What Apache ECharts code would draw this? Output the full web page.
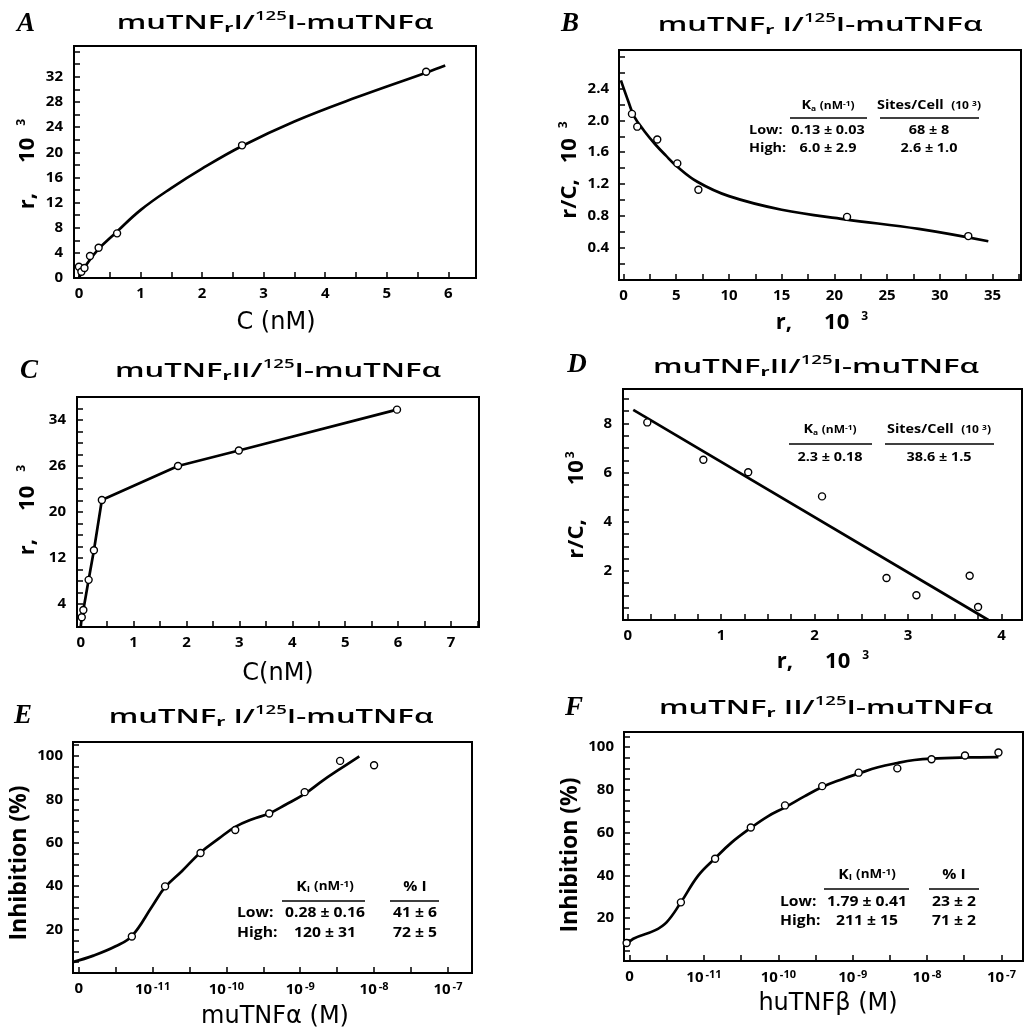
<!DOCTYPE html>
<html><head><meta charset="utf-8">
<script src="https://cdn.jsdelivr.net/npm/echarts@6.0.0/dist/echarts.min.js"></script>
<style>
html,body{margin:0;padding:0;background:#fff;}
#wrap{position:relative;width:1024px;height:1030px;background:#fff;}
#axesChart,#dataChart{position:absolute;left:0;top:0;width:1024px;height:1030px;}
</style>
</head><body><div id="wrap"><div id="axesChart"></div><div id="dataChart"></div></div>
<script>
// ================= DATA =================
// Panel A  r (x10^3) vs C (nM)
const aPointC = [0.0, 0.04, 0.09, 0.18, 0.32, 0.62, 2.65, 5.64];
const aPointR = [1.8, 1.0, 1.6, 3.5, 4.8, 7.1, 21.1, 32.8];
const aFitC = [0, 0.1, 0.3, 0.6, 1.0, 1.5, 2.0, 2.65, 3.5, 4.5, 5.65, 5.95];
const aFitR = [0, 1.8, 4.4, 7.2, 10.8, 14.3, 17.4, 21.0, 24.9, 28.7, 32.7, 33.8];
const aXTicks = [0, 1, 2, 3, 4, 5, 6];
const aXLabels = ['0', '1', '2', '3', '4', '5', '6'];
const aYTicks = [0, 4, 8, 12, 16, 20, 24, 28, 32];
const aYLabels = ['0', '4', '8', '12', '16', '20', '24', '28', '32'];

// Panel B  Scatchard r/C vs r
const bPointR = [0.8, 1.3, 3.2, 5.1, 7.1, 21.2, 32.7];
const bPointRC = [2.08, 1.92, 1.76, 1.46, 1.13, 0.79, 0.55];
const bFitR = [-0.25, 0.5, 1, 2, 3, 4, 5, 7, 10, 15, 21, 28, 34.6];
const bFitRC = [2.5, 2.22, 2.05, 1.86, 1.7, 1.56, 1.43, 1.23, 1.05, 0.88, 0.76, 0.64, 0.485];
const bXTicks = [0, 5, 10, 15, 20, 25, 30, 35];
const bXLabels = ['0', '5', '10', '15', '20', '25', '30', '35'];
const bYTicks = [0.4, 0.8, 1.2, 1.6, 2.0, 2.4];
const bYLabels = ['0.4', '0.8', '1.2', '1.6', '2.0', '2.4'];
const bTableHead = ['K{ks|a} {kh|(nM}{ku|-1}{kh|)}', 'Sites/Cell  {kh|(10 }{ku|3}{kh|)}'];
const bTableRows = [['Low:', '0.13 ± 0.03', '68 ± 8'], ['High:', '6.0 ± 2.9', '2.6 ± 1.0']];

// Panel C  r vs C
const cPointC = [0.02, 0.05, 0.15, 0.25, 0.40, 1.84, 2.99, 5.98];
const cPointR = [1.7, 2.95, 8.2, 13.35, 22.1, 28.0, 30.7, 37.8];
const cLineC = [0, 0.02, 0.05, 0.15, 0.25, 0.40, 1.84, 2.99, 5.98];
const cLineR = [0, 1.7, 2.95, 8.2, 13.35, 22.1, 28.0, 30.7, 37.8];
const cXTicks = [0, 1, 2, 3, 4, 5, 6, 7];
const cXLabels = ['0', '1', '2', '3', '4', '5', '6', '7'];
const cYTicks = [4, 12, 20, 28, 36];
const cYLabels = ['4', '12', '20', '26', '34'];

// Panel D  Scatchard
const dPointR = [0.21, 0.81, 1.29, 2.08, 2.77, 3.09, 3.66, 3.75];
const dPointRC = [8.04, 6.52, 6.01, 5.03, 1.71, 1.01, 1.80, 0.53];
const dFitR = [0.06, 3.86];
const dFitRC = [8.55, 0];
const dXTicks = [0, 1, 2, 3, 4];
const dXLabels = ['0', '1', '2', '3', '4'];
const dYTicks = [2, 4, 6, 8];
const dYLabels = ['2', '4', '6', '8'];
const dTableHead = ['K{ks|a} {kh|(nM}{ku|-1}{kh|)}', 'Sites/Cell  {kh|(10 }{ku|3}{kh|)}'];
const dTableRows = [['', '2.3 ± 0.18', '38.6 ± 1.5']];

// Panel E  inhibition vs log10[muTNFα]  (position -12 is the "0" tick)
const ePointX = [-11.28, -10.83, -10.35, -9.88, -9.42, -8.94, -8.46, -8.0];
const ePointY = [16.8, 39.9, 55.3, 65.9, 73.5, 83.3, 97.7, 95.7];
const eFitX = [-12.08, -11.8, -11.5, -11.28, -11.0, -10.83, -10.6, -10.35, -10.1, -9.88, -9.65, -9.42, -9.2, -8.94, -8.7, -8.46, -8.2];
const eFitY = [5, 8, 12.3, 17, 31, 39.5, 47, 55.5, 62, 67.3, 70.8, 73.5, 77.5, 82.5, 88.5, 94, 99.8];
const eTableHead = ['K{ks|I} {kh|(nM}{ku|-1}{kh|)}', '% I'];
const eTableRows = [['Low:', '0.28 ± 0.16', '41 ± 6'], ['High:', '120 ± 31', '72 ± 5']];

// Panel F  inhibition vs log10[huTNFβ]
const fPointX = [-12.04, -11.31, -10.85, -10.37, -9.91, -9.41, -8.92, -8.40, -7.94, -7.49, -7.04];
const fPointY = [8.4, 27.4, 47.8, 62.4, 72.7, 81.7, 88.0, 90.0, 94.3, 96.0, 97.4];
const fFitX = [-12.04, -11.95, -11.66, -11.5, -11.31, -11.08, -10.85, -10.63, -10.37, -10.14, -9.91, -9.65, -9.41, -9.17, -8.92, -8.66, -8.40, -8.17, -7.94, -7.49, -7.04];
const fFitY = [7.6, 10.4, 14.3, 18.2, 27.4, 39.8, 48, 55.3, 62.2, 67.6, 71.8, 76.9, 81.3, 84.6, 87.6, 90.5, 92.5, 93.9, 94.6, 95.1, 95.3];
const fTableHead = ['K{ks|I} {kh|(nM}{ku|-1}{kh|)}', '% I'];
const fTableRows = [['Low:', '1.79 ± 0.41', '23 ± 2'], ['High:', '211 ± 15', '71 ± 2']];

// shared log-axis tick labels for E and F
const logTicks = [-12, -11, -10, -9, -8, -7];
const logBase = ['0', '10', '10', '10', '10', '10'];
const logExp = ['', '-11', '-10', '-9', '-8', '-7'];
const inhTicks = [20, 40, 60, 80, 100];
const inhLabels = ['20', '40', '60', '80', '100'];

// ================= BUILD =================
const FONT = "'Open Sans', 'DejaVu Sans', sans-serif";
const WIDE = "'DejaVu Sans', sans-serif";
const zip = (xs, ys) => xs.map((x, i) => [x, ys[i]]);
function steps(min, max, step) {
  const out = [];
  for (let k = Math.ceil(min / step - 1e-9); k * step <= max + 1e-9; k++) out.push(+(k * step).toFixed(6));
  return out;
}
function pick(vals, labels) {
  return function (v) {
    for (let i = 0; i < vals.length; i++) if (Math.abs(vals[i] - v) < 1e-6) return labels[i];
    return '';
  };
}
const logLabels = logBase.map((b, i) => logExp[i] ? '{b|' + b + '}{e|' + logExp[i] + '}' : b);
const tickRich = {
  b: { fontSize: 15, fontWeight: 'bold', fontFamily: FONT, color: '#000', lineHeight: 18 },
  e: { fontSize: 11, fontWeight: 'bold', fontFamily: FONT, color: '#000', verticalAlign: 'top', lineHeight: 10, padding: [0, 0, 0, 2] }
};

// x: [grid, min, max, tick step, label values, label texts, label margin, rich labels]
const xSpecs = [
  [0, -0.08, 6.45, 0.5, aXTicks, aXLabels, 8, false],
  [1, -0.43, 37.7, 2.5, bXTicks, bXLabels, 8, false],
  [2, -0.07, 7.53, 0.5, cXTicks, cXLabels, 8, false],
  [3, -0.05, 4.22, 0.25, dXTicks, dXLabels, 8, false],
  [4, -12.077, -6.674, 0.5, logTicks, logLabels, 8, true],
  [5, -12.075, -6.71, 0.5, logTicks, logLabels, 8, true]
];
// y: [grid, min, max, tick step, label values, label texts, label margin, onZeroOff]
const ySpecs = [
  [0, 0, 36.9, 2, aYTicks, aYLabels, 11, true],
  [1, 0, 2.88, 0.2, bYTicks, bYLabels, 10, true],
  [2, 0, 40, 2, cYTicks, cYLabels, 11, true],
  [3, 0, 9.4, 0.5, dYTicks, dYLabels, 11, true],
  [4, 0, 106.4, 5, inhTicks, inhLabels, 10, false],
  [5, 0, 107, 5, inhTicks, inhLabels, 10, false]
];

function xVisible(s) {
  const [g, min, max, step, vals, labels, margin, useRich] = s;
  const label = { customValues: vals, formatter: pick(vals, labels), margin: margin, color: '#000',
    fontFamily: FONT, fontSize: 15, fontWeight: 'bold' };
  if (useRich) label.rich = tickRich;
  return {
    type: 'value', gridIndex: g, min: min, max: max,
    axisLine: { show: true, onZero: false, lineStyle: { color: '#000', width: 2 } },
    axisTick: { show: true, inside: true, length: 6, customValues: steps(min, max, step),
      lineStyle: { color: '#000', width: 1.5 } },
    splitLine: { show: false },
    axisLabel: label
  };
}
function yVisible(s) {
  const [g, min, max, step, vals, labels, margin, onZeroOff] = s;
  const line = { show: true, lineStyle: { color: '#000', width: 2 } };
  if (onZeroOff) line.onZero = false;
  return {
    type: 'value', gridIndex: g, min: min, max: max, interval: step,
    axisLine: line,
    axisTick: { show: true, inside: true, length: 6, lineStyle: { color: '#000', width: 1.5 } },
    splitLine: { show: false },
    axisLabel: { formatter: pick(vals, labels), margin: margin, color: '#000',
      fontFamily: FONT, fontSize: 15, fontWeight: 'bold' }
  };
}
function axisHidden(s) {
  return { type: 'value', gridIndex: s[0], min: s[1], max: s[2], show: false };
}

const gridRects = [
  { left: 74, top: 46, width: 402, height: 232 },
  { left: 619, top: 50, width: 402, height: 230 },
  { left: 77, top: 397, width: 402, height: 230 },
  { left: 623, top: 389, width: 399, height: 231 },
  { left: 73, top: 742, width: 399, height: 231 },
  { left: 624, top: 732, width: 399, height: 229 }
];

function fit(i, xs, ys, smooth) {
  return { type: 'line', xAxisIndex: i, yAxisIndex: i, data: zip(xs, ys), smooth: smooth, showSymbol: false,
    lineStyle: { color: '#000', width: 2.7 }, z: 2, silent: true };
}
function pts(i, xs, ys) {
  return { type: 'scatter', xAxisIndex: i, yAxisIndex: i, data: zip(xs, ys), symbol: 'circle', symbolSize: 7,
    itemStyle: { color: '#fff', borderColor: '#000', borderWidth: 1.4, opacity: 1 }, z: 3, silent: true };
}
const series = [
  fit(0, aFitC, aFitR, 0.4), pts(0, aPointC, aPointR),
  fit(1, bFitR, bFitRC, 0.4), pts(1, bPointR, bPointRC),
  fit(2, cLineC, cLineR, false), pts(2, cPointC, cPointR),
  fit(3, dFitR, dFitRC, false), pts(3, dPointR, dPointRC),
  fit(4, eFitX, eFitY, 0.4), pts(4, ePointX, ePointY),
  fit(5, fFitX, fFitY, 0.4), pts(5, fPointX, fPointY)
];

function txt(x, y, text, size, extra, sx, rot) {
  return { type: 'text', x: x, y: y, scaleX: sx || 1, rotation: rot || 0, silent: true,
    style: Object.assign({ text: text, fill: '#000', fontFamily: FONT, fontSize: size, fontWeight: 'bold',
      align: 'center', verticalAlign: 'middle', textAlign: 'center', textVerticalAlign: 'middle' }, extra || {}) };
}
function hline(x1, x2, y) {
  return { type: 'line', silent: true, shape: { x1: x1, y1: y, x2: x2, y2: y }, style: { stroke: '#000', lineWidth: 1.4 } };
}
const titleRich = {
  t: { fontSize: 20, fontFamily: FONT, fontWeight: 600, fill: '#000', lineHeight: 24 },
  r: { fontSize: 13, fontFamily: FONT, fontWeight: 'bold', fill: '#000', verticalAlign: 'bottom', lineHeight: 9 },
  p: { fontSize: 12, fontFamily: FONT, fontWeight: 600, fill: '#000', verticalAlign: 'top', lineHeight: 13 }
};
function title(x, y, rec) {
  return txt(x, y, '{t|muTNF}{r|r}{t|' + rec + '/}{p|125}{t|I-muTNFα}', 20, { rich: titleRich, fontWeight: 600 }, 1.55);
}
function letter(x, y, l) {
  return txt(x, y, l, 27, { fontFamily: "'Liberation Serif', serif", fontStyle: 'italic', fontWeight: 'bold' });
}
// axis titles
function nameRich(gap1, gap2) {
  const n = { fontSize: 22, fontWeight: 'bold', fontFamily: FONT, fill: '#000', lineHeight: 24 };
  return {
    n: n,
    g: Object.assign({}, n, { padding: [0, 0, 0, gap1] }),
    s: { fontSize: 12, fontWeight: 'bold', fontFamily: FONT, fill: '#000', verticalAlign: 'top', lineHeight: 10, padding: [0, 0, 0, gap2] }
  };
}
function rName(x, y, first, g1, g2, rot) {
  return txt(x, y, '{n|' + first + '}{g|10}{s|3}', 22, { rich: nameRich(g1, g2) }, 1, rot);
}
function plainName(x, y, text, rot) {
  return txt(x, y, text, 24, { fontFamily: WIDE, fontWeight: 'normal' }, 1, rot);
}
function inhName(x, y) {
  return txt(x, y, 'Inhibition (%)', 23, { fontWeight: 'bold' }, 1, Math.PI / 2);
}
const R90 = Math.PI / 2;
const axisNames = [
  plainName(276, 323, 'C (nM)'), rName(28, 164, 'r,', 30, 12, R90),
  rName(822, 323, 'r,', 32, 12), rName(570, 170, 'r/C,', 16, 10, R90),
  plainName(278, 674, 'C(nM)'), rName(28, 510, 'r,', 28, 14, R90),
  rName(823, 662, 'r,', 32, 12), rName(577, 505, 'r/C,', 34, 2, R90),
  plainName(275, 1017, 'muTNFα (M)'), inhName(19, 863),
  plainName(828, 1004, 'huTNFβ (M)'), inhName(570, 855)
];
function tRich(size) {
  return {
    kh: { fontSize: size - 2, fontFamily: FONT, fontWeight: 'bold', fill: '#000' },
    ks: { fontSize: size - 5, fontFamily: FONT, fontWeight: 'bold', fill: '#000', verticalAlign: 'bottom', lineHeight: 6 },
    ku: { fontSize: size - 5, fontFamily: FONT, fontWeight: 'bold', fill: '#000', verticalAlign: 'top', lineHeight: 8 }
  };
}
function table(head, rows, cfg) {
  const out = [];
  const s = cfg.size, sx = cfg.sx;
  out.push(txt(cfg.c1, cfg.hy, head[0], s, { rich: tRich(s) }, sx));
  out.push(txt(cfg.c2, cfg.hy, head[1], s, { rich: tRich(s) }, sx));
  out.push(hline(cfg.u1[0], cfg.u1[1], cfg.uy));
  out.push(hline(cfg.u2[0], cfg.u2[1], cfg.uy));
  rows.forEach((r, i) => {
    const y = cfg.ry[i];
    if (r[0]) out.push(txt(cfg.lx, y, r[0], s, { align: 'left', textAlign: 'left' }, sx));
    out.push(txt(cfg.c1, y, r[1], s, null, sx));
    out.push(txt(cfg.c2, y, r[2], s, null, sx));
  });
  return out;
}

const graphics = [].concat(
  [title(275, 23, 'I'), title(820, 25, ' I'), title(278, 371, 'II'), title(816, 367, 'II'), title(271, 717, ' I'), title(826, 708, ' II')],
  [letter(26, 24, 'A'), letter(570, 24, 'B'), letter(29, 371, 'C'), letter(577, 365, 'D'), letter(23, 716, 'E'), letter(574, 708, 'F')],
  axisNames,
  table(bTableHead, bTableRows, { size: 12, sx: 1.2, c1: 828, c2: 929, hy: 106, u1: [790, 867], u2: [880, 979], uy: 118, lx: 749, ry: [131, 149] }),
  table(dTableHead, dTableRows, { size: 12, sx: 1.2, c1: 830, c2: 939, hy: 430, u1: [789, 872], u2: [885, 994], uy: 444, lx: 749, ry: [458] }),
  table(eTableHead, eTableRows, { size: 14, sx: 1.12, c1: 325, c2: 415, hy: 887, u1: [282, 365], u2: [390, 439], uy: 901, lx: 237, ry: [913, 933] }),
  table(fTableHead, fTableRows, { size: 14, sx: 1.12, c1: 867, c2: 954, hy: 875, u1: [824, 909], u2: [929, 979], uy: 889, lx: 780, ry: [902, 921] })
);

// Layer 1: frames, axes, ticks and tick labels
const axesChart = echarts.init(document.getElementById('axesChart'));
axesChart.setOption({
  animation: false,
  grid: gridRects.map(g => Object.assign({}, g, { show: true, borderColor: '#000', borderWidth: 2 })),
  xAxis: xSpecs.map(xVisible),
  yAxis: ySpecs.map(yVisible)
});

// Layer 2: data marks, titles, axis titles and tables on the same scales
const dataChart = echarts.init(document.getElementById('dataChart'));
dataChart.setOption({
  animation: false,
  backgroundColor: 'transparent',
  grid: gridRects.map(g => Object.assign({}, g, { show: false })),
  xAxis: xSpecs.map(axisHidden),
  yAxis: ySpecs.map(axisHidden),
  series: series,
  graphic: graphics
});
</script></body></html>
